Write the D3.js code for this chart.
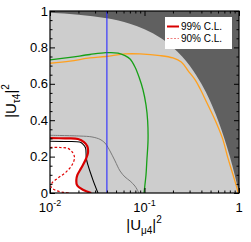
<!DOCTYPE html>
<html>
<head>
<meta charset="utf-8">
<script src="https://cdn.jsdelivr.net/npm/d3@7"></script>
<style>
  html, body { margin: 0; padding: 0; background: #fff; }
  svg { display: block; font-family: "Liberation Sans", Arial, Helvetica, sans-serif; }
</style>
</head>
<body>
<div id="chart"></div>
<script>
// curves as [|U_mu4|^2, |U_tau4|^2] pairs
const unitarityEdge = [[0.01, 0.99], [0.02, 0.98], [0.04, 0.96], [0.07, 0.93], [0.1, 0.9],
  [0.15, 0.85], [0.2, 0.8], [0.25, 0.75], [0.3, 0.7], [0.35, 0.65], [0.4, 0.6], [0.5, 0.5],
  [0.6, 0.4], [0.7, 0.3], [0.8, 0.2], [0.9, 0.1], [1, 0]]
const red99 = [[0.01, 0.302], [0.0144, 0.3], [0.0198, 0.297], [0.0229, 0.28], [0.0248, 0.257],
  [0.0252, 0.22], [0.024, 0.187], [0.0214, 0.137], [0.0195, 0.099], [0.019, 0.071],
  [0.0193, 0.044], [0.0223, 0.018], [0.0273, 0]]
const red90 = [[0.01, 0.25], [0.01276, 0.25], [0.0155, 0.245], [0.01751, 0.22], [0.01816, 0.192],
  [0.0171, 0.154], [0.01476, 0.115], [0.01215, 0.082], [0.0105, 0.055], [0.01025, 0.033],
  [0.01129, 0.016], [0.0134, 0.005], [0.01628, 0]]
const blackCurve = [[0.01, 0.284], [0.0144, 0.283], [0.0206, 0.28], [0.0223, 0.269], [0.0238, 0.247],
  [0.0242, 0.192], [0.0252, 0.154], [0.0285, 0.071], [0.0322, 0]]
const grayCurve = [[0.01, 0.317], [0.0207, 0.313], [0.0278, 0.308], [0.0338, 0.295], [0.0372, 0.28],
  [0.0391, 0.268], [0.0431, 0.231], [0.0488, 0.176], [0.0551, 0.121], [0.0622, 0.088],
  [0.0704, 0.066], [0.0793, 0.038], [0.0859, 0.007], [0.087, 0]]
const greenCurve = [[0.01, 0.731], [0.0163, 0.745], [0.0265, 0.761], [0.0391, 0.771], [0.0525, 0.769],
  [0.0622, 0.755], [0.0704, 0.736], [0.0793, 0.692], [0.0875, 0.637], [0.0965, 0.566],
  [0.1037, 0.484], [0.108, 0.396], [0.109, 0.291], [0.106, 0.181], [0.1037, 0.099],
  [0.101, 0.044], [0.0989, 0]]
const orangeCurve = [[0.01, 0.713], [0.0163, 0.725], [0.0265, 0.742], [0.0391, 0.75], [0.0622, 0.764],
  [0.0895, 0.764], [0.146, 0.755], [0.2, 0.742], [0.245, 0.72], [0.291, 0.67], [0.345, 0.62],
  [0.39, 0.57], [0.453, 0.5], [0.564, 0.396], [0.669, 0.3], [0.756, 0.2], [0.864, 0.1],
  [0.948, 0.03], [0.983, 0]]
const blueLineX = 0.04

const xMajor = [0.01, 0.1, 1]
const xMajorLabels = [['10', '-2'], ['10', '-1'], ['1', '']]
const xMinor = [0.02, 0.03, 0.04, 0.05, 0.06, 0.07, 0.08, 0.09, 0.2, 0.3, 0.4, 0.5, 0.6, 0.7, 0.8, 0.9]
const yMajor = [0, 0.2, 0.4, 0.6, 0.8, 1]
const yMajorLabels = ['0', '0.2', '0.4', '0.6', '0.8', '1']
const yMinor = [0.05, 0.1, 0.15, 0.25, 0.3, 0.35, 0.45, 0.5, 0.55, 0.65, 0.7, 0.75, 0.85, 0.9, 0.95]

const legendItems = ['99% C.L.', '90% C.L.']

const W = 251, H = 242
const pLeft = 50, pRight = 239, pTop = 11, pBottom = 193

const svg = d3.select('#chart').append('svg').attr('width', W).attr('height', H)

const x = d3.scaleLog().domain([0.01, 1]).range([pLeft, pRight])
const y = d3.scaleLinear().domain([0, 1]).range([pBottom, pTop])

svg.append('defs').append('clipPath').attr('id', 'clip')
  .append('rect').attr('x', pLeft).attr('y', pTop).attr('width', pRight - pLeft).attr('height', pBottom - pTop)

const plot = svg.append('g').attr('clip-path', 'url(#clip)')

plot.append('rect')
  .attr('x', pLeft).attr('y', pTop).attr('width', pRight - pLeft).attr('height', pBottom - pTop)
  .attr('fill', '#cdcdcd')

// excluded by unitarity
const edge = d3.line().x(d => x(d[0])).y(d => y(d[1])).curve(d3.curveMonotoneX)
plot.append('path')
  .attr('d', edge(unitarityEdge) + `L${x(1)},${y(1)}L${x(0.01)},${y(1)}Z`)
  .attr('fill', '#606060')

const line = d3.line().x(d => x(d[0])).y(d => y(d[1])).curve(d3.curveCatmullRom)

// allowed region inside 99% contour
plot.append('path')
  .attr('d', line(red99) + `L${x(0.01)},${y(0)}Z`)
  .attr('fill', '#fff')

plot.append('path').attr('d', line(orangeCurve)).attr('fill', 'none')
  .attr('stroke', '#ffa01e').attr('stroke-width', 1.3)
plot.append('path').attr('d', line(greenCurve)).attr('fill', 'none')
  .attr('stroke', '#16a016').attr('stroke-width', 1.3)
plot.append('path').attr('d', line(grayCurve)).attr('fill', 'none')
  .attr('stroke', '#7a7a7a').attr('stroke-width', 1)
plot.append('path').attr('d', line(blackCurve)).attr('fill', 'none')
  .attr('stroke', '#000').attr('stroke-width', 1.1)
plot.append('path').attr('d', line(red90)).attr('fill', 'none')
  .attr('stroke', '#e00000').attr('stroke-width', 1.2).attr('stroke-dasharray', '2.5,2')
plot.append('path').attr('d', line(red99)).attr('fill', 'none')
  .attr('stroke', '#d80000').attr('stroke-width', 2.2)

plot.append('line')
  .attr('x1', x(blueLineX)).attr('x2', x(blueLineX)).attr('y1', y(0)).attr('y2', y(1))
  .attr('stroke', '#2b2bff').attr('stroke-width', 1.1)

// legend
const lg = svg.append('g')
lg.append('rect').attr('x', 165).attr('y', 17).attr('width', 67).attr('height', 32).attr('fill', '#fff')
legendItems.forEach((t, i) => {
  const ly = 26.5 + i * 12
  lg.append('line').attr('x1', 167).attr('x2', 179).attr('y1', ly).attr('y2', ly)
    .attr('stroke', i ? '#f08080' : '#d80000').attr('stroke-width', i ? 1.2 : 2)
    .attr('stroke-dasharray', i ? '2,1.5' : null)
  lg.append('text').attr('x', 181).attr('y', ly).attr('dy', '0.35em')
    .attr('font-size', 10).attr('fill', '#000').text(t)
})

// ticks, pointing inward on all four sides
function ticks(axis, vals, len) {
  return axis.tickValues(vals).tickSize(-len).tickFormat('')
}
const axes = svg.append('g')
axes.append('g').attr('transform', `translate(0,${pBottom})`).call(ticks(d3.axisBottom(x), xMajor, 5))
axes.append('g').attr('transform', `translate(0,${pBottom})`).call(ticks(d3.axisBottom(x), xMinor, 2.5))
axes.append('g').attr('transform', `translate(0,${pTop})`).call(ticks(d3.axisTop(x), xMajor, 5))
axes.append('g').attr('transform', `translate(0,${pTop})`).call(ticks(d3.axisTop(x), xMinor, 2.5))
axes.append('g').attr('transform', `translate(${pLeft},0)`).call(ticks(d3.axisLeft(y), yMajor, 5))
axes.append('g').attr('transform', `translate(${pLeft},0)`).call(ticks(d3.axisLeft(y), yMinor, 2.5))
axes.append('g').attr('transform', `translate(${pRight},0)`).call(ticks(d3.axisRight(y), yMajor, 5))
axes.append('g').attr('transform', `translate(${pRight},0)`).call(ticks(d3.axisRight(y), yMinor, 2.5))
axes.selectAll('.domain').remove()

svg.append('rect')
  .attr('x', pLeft).attr('y', pTop).attr('width', pRight - pLeft).attr('height', pBottom - pTop)
  .attr('fill', 'none').attr('stroke', '#000').attr('stroke-width', 1.2)

// tick labels
svg.selectAll('text.ylab').data(yMajor).join('text')
  .attr('class', 'ylab')
  .attr('x', pLeft - 2).attr('y', d => y(d)).attr('dy', '0.36em')
  .attr('text-anchor', 'end').attr('font-size', 13).text((d, i) => yMajorLabels[i])

xMajor.forEach((v, i) => {
  const [base, exp] = xMajorLabels[i]
  const t = svg.append('text').attr('x', x(v)).attr('y', 211.5)
    .attr('text-anchor', 'middle').attr('font-size', 13)
  t.append('tspan').text(base)
  if (exp) t.append('tspan').attr('dy', -6).attr('font-size', 9).text(exp)
})

// axis titles
const xt = svg.append('text').attr('x', 144).attr('y', 230).attr('text-anchor', 'middle').attr('font-size', 15)
xt.append('tspan').text('|U')
xt.append('tspan').attr('dy', 4).attr('font-size', 10).text('μ4')
xt.append('tspan').attr('dy', -4).text('|')
xt.append('tspan').attr('dy', -7).attr('font-size', 10).text('2')

const yt = svg.append('text').attr('transform', 'translate(16,101) rotate(-90)')
  .attr('text-anchor', 'middle').attr('font-size', 15)
yt.append('tspan').text('|U')
yt.append('tspan').attr('dy', 4).attr('font-size', 10).text('τ4')
yt.append('tspan').attr('dy', -4).text('|')
yt.append('tspan').attr('dy', -7).attr('font-size', 10).text('2')
</script>
</body>
</html>
